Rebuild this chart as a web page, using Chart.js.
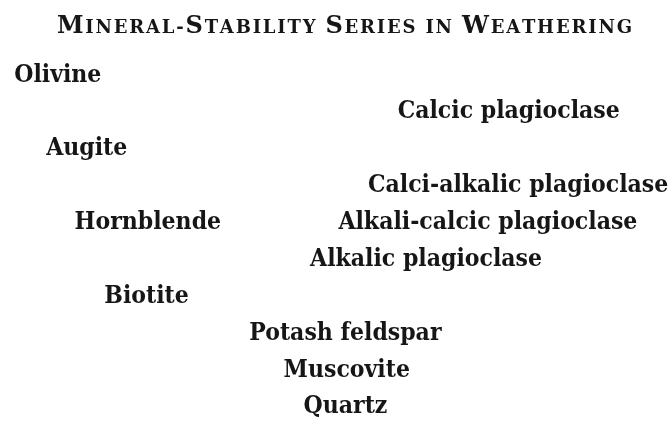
<!DOCTYPE html>
<html>
<head>
<meta charset="utf-8">
<script src="https://cdn.jsdelivr.net/npm/chart.js@4/dist/chart.umd.min.js"></script>
<style>
  html, body { margin: 0; padding: 0; background: #fff; }
  #wrap { width: 672px; height: 423px; position: relative; }
</style>
</head>
<body>
<div id="wrap"><canvas id="seriesChart"></canvas></div>
<script>
// Goldich series: each mineral with its stability rank (0 = least stable)
var minerals = [
  'Olivine', 'Calcic plagioclase', 'Augite', 'Calci-alkalic plagioclase',
  'Hornblende', 'Alkali-calcic plagioclase', 'Alkalic plagioclase',
  'Biotite', 'Potash feldspar', 'Muscovite', 'Quartz'
];
// horizontal place of each name (0-100 across the page)
var xPos = [8.6, 75.7, 12.9, 77.1, 22.0, 72.6, 63.4, 21.8, 51.4, 51.6, 51.4];
var stabilityRank = [0, 1, 2, 3, 4, 4, 5, 6, 7, 8, 9];
var titleText = 'Mineral-Stability Series in Weathering';

(function () {
  var el = document.getElementById('seriesChart');
  if (!el || !window.Chart) return;

  var points = minerals.map(function (m, i) {
    return { x: xPos[i], y: stabilityRank[i], name: m };
  });

  var labelFont = 'bold 24.5px "DejaVu Serif Condensed", "DejaVu Serif", serif';

  // draws each mineral name centred on its point
  var nameLabels = {
    id: 'nameLabels',
    afterDatasetsDraw: function (chart) {
      var ctx = chart.ctx;
      var meta = chart.getDatasetMeta(0);
      ctx.save();
      ctx.font = labelFont;
      ctx.fillStyle = '#161616';
      ctx.textAlign = 'center';
      ctx.textBaseline = 'middle';
      meta.data.forEach(function (pt, i) {
        ctx.fillText(minerals[i], pt.x, pt.y);
      });
      ctx.restore();
    }
  };

  // small-caps title, drawn letter by letter and spread to the printed width
  var smallCapsTitle = {
    id: 'smallCapsTitle',
    afterDraw: function (chart) {
      var ctx = chart.ctx;
      var big = 'bold 24px "DejaVu Serif", serif';
      var small = 'bold 18px "DejaVu Serif", serif';
      var glyphs = [];
      var words = titleText.split(' ');
      words.forEach(function (w, wi) {
        for (var i = 0; i < w.length; i++) {
          var c = w[i];
          var up = c === c.toUpperCase() && c !== '-';
          glyphs.push({ ch: c.toUpperCase(), font: up ? big : small });
        }
        if (wi < words.length - 1) glyphs.push({ ch: ' ', font: small });
      });
      ctx.save();
      var total = 0;
      glyphs.forEach(function (g) {
        ctx.font = g.font;
        g.w = ctx.measureText(g.ch).width;
        total += g.w;
      });
      var left = 57, right = 632;
      var gap = (right - left - total) / (glyphs.length - 1);
      var x = left;
      ctx.fillStyle = '#161616';
      ctx.textAlign = 'left';
      ctx.textBaseline = 'alphabetic';
      glyphs.forEach(function (g) {
        ctx.font = g.font;
        ctx.fillText(g.ch, x, 33);
        x += g.w + gap;
      });
      ctx.restore();
    }
  };

  new Chart(el, {
    type: 'scatter',
    data: {
      datasets: [{
        data: points,
        pointRadius: 0,
        pointHoverRadius: 0,
        showLine: false
      }]
    },
    options: {
      responsive: true,
      maintainAspectRatio: false,
      animation: false,
      layout: { padding: { top: 42, left: 0, right: 0, bottom: 0 } },
      plugins: {
        legend: { display: false },
        tooltip: { enabled: false },
        title: { display: false }
      },
      scales: {
        x: { type: 'linear', min: 0, max: 100, display: false },
        y: { type: 'linear', min: -0.9, max: 9.43, reverse: true, display: false }
      }
    },
    plugins: [nameLabels, smallCapsTitle]
  });
})();
</script>
</body>
</html>
